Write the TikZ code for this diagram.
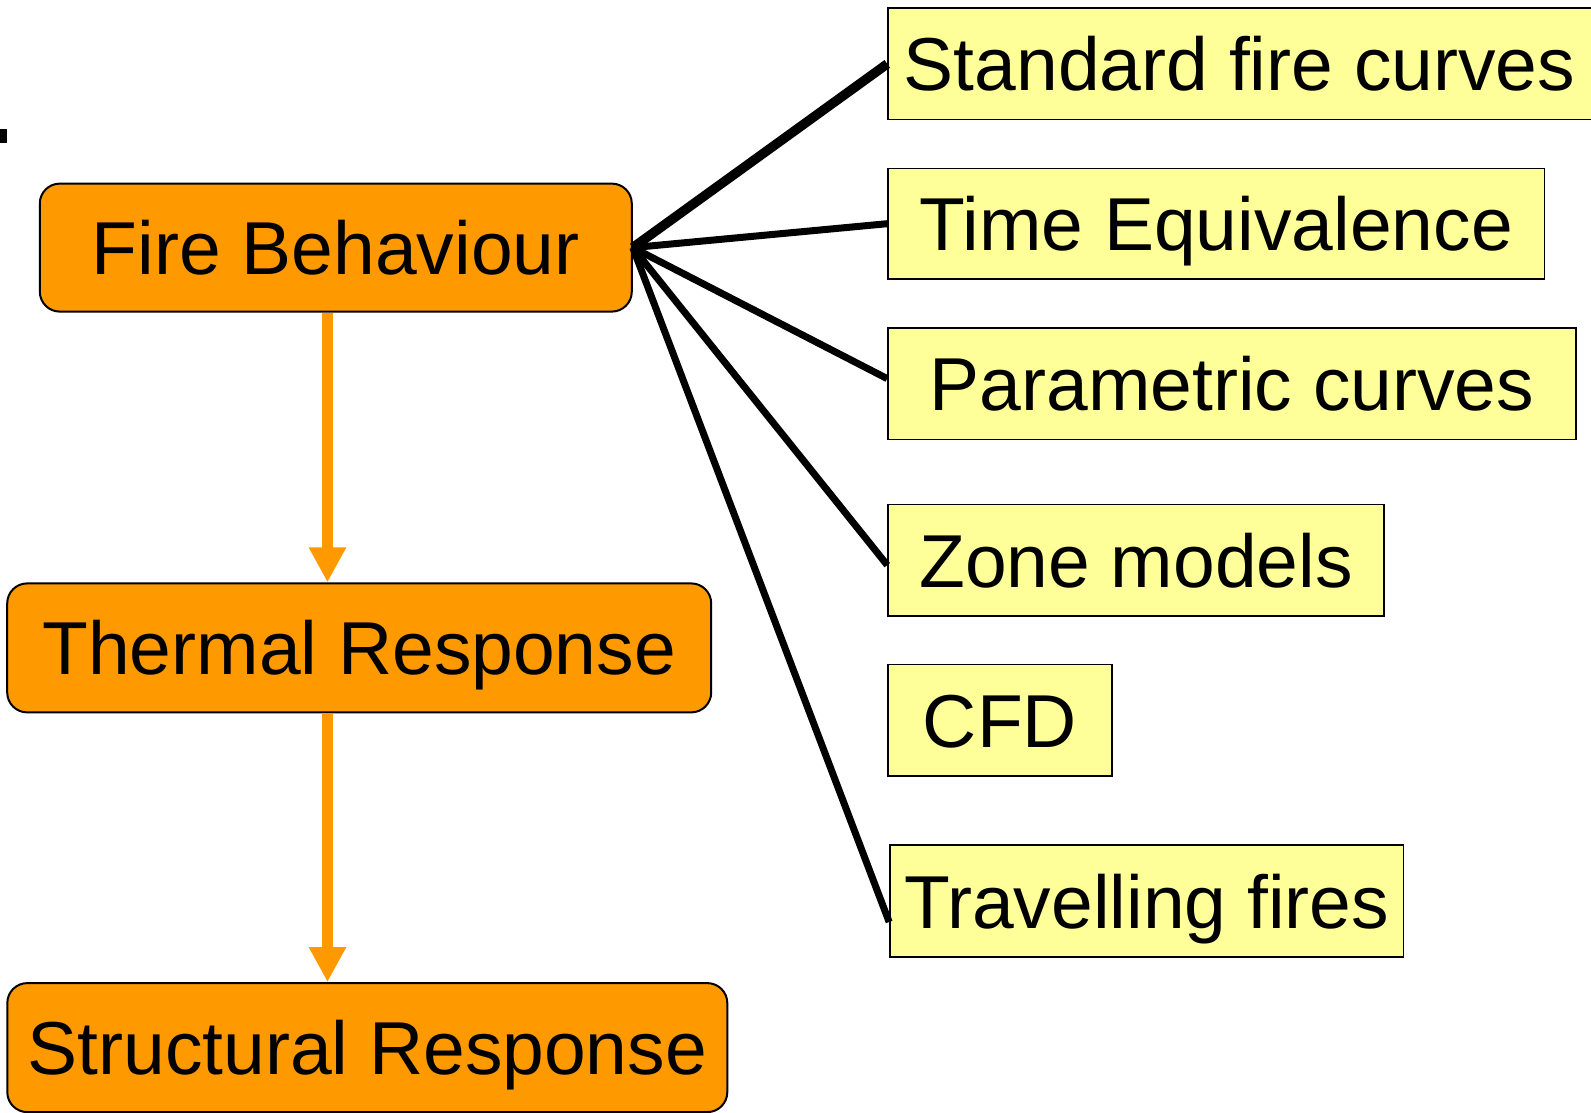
\documentclass[tikz,border=0pt]{standalone}
\usepackage{fontspec}
\setmainfont{Liberation Sans}
\usetikzlibrary{arrows.meta}
\definecolor{fireorange}{HTML}{FF9900}
\definecolor{paleyellow}{HTML}{FFFF99}

\begin{document}
\begin{tikzpicture}[x=1pt, y=-1pt,
	stage/.style = {draw, line width=2pt, fill=fireorange, rounded corners=20pt, inner sep=0pt,
		text height=54pt, text depth=0pt, font=\fontsize{75}{80}\selectfont},
	model/.style = {draw, line width=1.5pt, fill=paleyellow, inner sep=0pt,
		text height=54pt, text depth=0pt, font=\fontsize{75}{80}\selectfont},
	flow/.style = {draw=fireorange, line width=11.6pt, -{Triangle[width=35pt, length=35pt]}},
	link/.style = {line width=7pt}]
	\useasboundingbox (0,0) rectangle (1591,1113);
	\fill (0,129) rectangle (7,143);

	% the three stages
	\node [stage, minimum width=592pt, minimum height=128pt] (fire) at (335.8,247.6) {Fire Behaviour};
	\node [stage, minimum width=704pt, minimum height=129pt] (thermal) at (359.2,647.9) {Thermal Response};
	\node [stage, minimum width=720pt, minimum height=129pt] (structural) at (367.3,1047.6) {Structural Response};

	% fire models
	\node [model, minimum width=720pt, minimum height=111.6pt] (std) at (1248,63.9) {};
	\node [font=\fontsize{75}{80}\selectfont, text height=54pt, text depth=0pt, inner sep=0pt] (stdtext) at (1239.5,63.9) {Standard fire curves};
	\node [model, minimum width=656.5pt, minimum height=110.6pt] (time) at (1216.2,223.7) {Time Equivalence};
	\node [model, minimum width=688pt, minimum height=111.7pt] (param) at (1231.9,383.6) {Parametric curves};
	\node [model, minimum width=496pt, minimum height=111.6pt] (zone) at (1136,560.1) {Zone models};
	\node [model, minimum width=224.2pt, minimum height=111.6pt] (cfd) at (1000,720.4) {CFD};
	\node [model, minimum width=513.4pt, minimum height=111.7pt] (travel) at (1146.6,901) {Travelling fires};

	\coordinate (axis) at (327.5,0);
	\draw [flow] (fire.south -| axis) -- (thermal.north -| axis);
	\draw [flow] (thermal.south -| axis) -- (structural.north -| axis);

	\draw [link, line width=9.5pt] (fire.east) -- (std.west);
	\draw [link] (fire.east) -- (time.west);
	\draw [link] (fire.east) -- ([yshift=5pt]param.west);
	\draw [link] (fire.east) -- ([yshift=-5pt]zone.west);
	\draw [link] (fire.east) -- ([yshift=-21pt]travel.west);

\end{tikzpicture}
\end{document}
